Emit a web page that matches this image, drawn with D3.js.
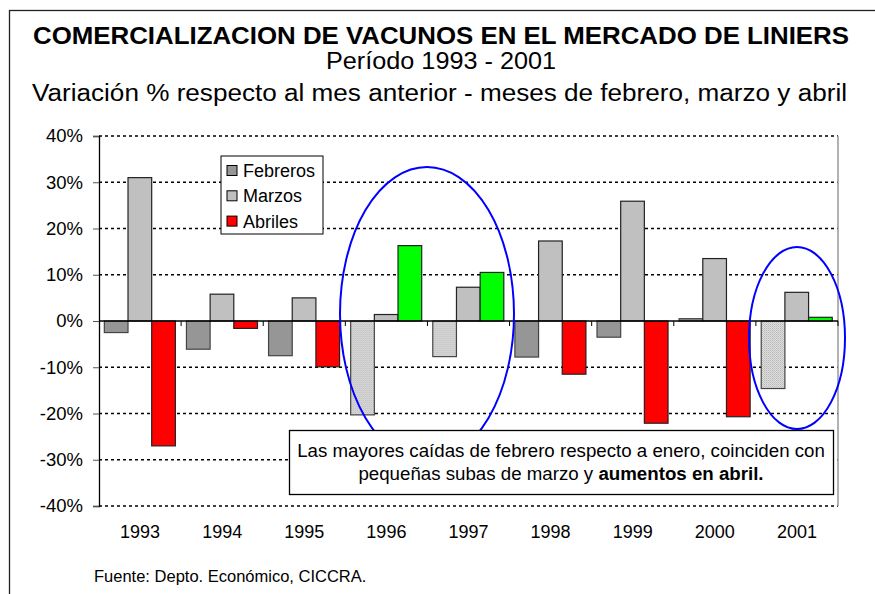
<!DOCTYPE html>
<html>
<head>
<meta charset="utf-8">
<script src="https://cdn.jsdelivr.net/npm/d3@7"></script>
<style>
  body { margin: 0; background: #fff; }
  svg text { font-family: Arial, "Liberation Sans", sans-serif; fill: #000; }
</style>
</head>
<body>
<div id="vis"></div>
<script>
// data (variacion %)
var years = ['1993', '1994', '1995', '1996', '1997', '1998', '1999', '2000', '2001'];
var febreros = [-2.5, -6.1, -7.5, -20.3, -7.7, -7.8, -3.5, 0.5, -14.6];
var marzos = [31.0, 5.8, 5.0, 1.4, 7.3, 17.3, 25.9, 13.5, 6.2];
var abriles = [-27.0, -1.6, -9.9, 16.3, 10.5, -11.5, -22.1, -20.7, 0.8];
// years highlighted in the circles
var destacados = ['1996', '1997', '2001'];
var yTicks = [-40, -30, -20, -10, 0, 10, 20, 30, 40];
var seriesNames = ['Febreros', 'Marzos', 'Abriles'];

var width = 875;
var height = 594;
var margin = { top: 136, left: 99, bottom: 88, right: 37 };
var plotW = width - margin.left - margin.right;
var plotH = height - margin.top - margin.bottom;

var svg = d3.select('#vis').append('svg')
    .attr('width', width)
    .attr('height', height);

var defs = svg.append('defs');
var pat = defs.append('pattern')
    .attr('id', 'puntos')
    .attr('width', 2)
    .attr('height', 2)
    .attr('patternUnits', 'userSpaceOnUse');
pat.append('rect').attr('width', 2).attr('height', 2).attr('fill', '#e2e2e2');
pat.append('rect').attr('width', 1).attr('height', 1).attr('fill', '#b4b4b4');
pat.append('rect').attr('x', 1).attr('y', 1).attr('width', 1).attr('height', 1).attr('fill', '#c4c4c4');

// outer frame
svg.append('rect')
    .attr('x', 9.5)
    .attr('y', 10.5)
    .attr('width', 900)
    .attr('height', 700)
    .attr('fill', 'none')
    .attr('stroke', '#222')
    .attr('stroke-width', 1.3);

// titles
svg.append('text')
    .attr('x', 441).attr('y', 43.5)
    .attr('text-anchor', 'middle')
    .attr('textLength', 816)
    .attr('lengthAdjust', 'spacingAndGlyphs')
    .style('font-size', '23px')
    .style('font-weight', 'bold')
    .text('COMERCIALIZACION DE VACUNOS EN EL MERCADO DE LINIERS');
svg.append('text')
    .attr('x', 441).attr('y', 68.5)
    .attr('text-anchor', 'middle')
    .attr('textLength', 230)
    .attr('lengthAdjust', 'spacingAndGlyphs')
    .style('font-size', '23px')
    .text('Período 1993 - 2001');
svg.append('text')
    .attr('x', 439.5).attr('y', 101)
    .attr('text-anchor', 'middle')
    .attr('textLength', 815)
    .attr('lengthAdjust', 'spacingAndGlyphs')
    .style('font-size', '23px')
    .text('Variación % respecto al mes anterior - meses de febrero, marzo y abril');

var g = svg.append('g')
    .attr('transform', 'translate(' + margin.left + ',' + margin.top + ')');

var x = d3.scaleBand()
    .domain(years)
    .range([0, plotW])
    .padding(0);

var xSub = d3.scaleBand()
    .domain(seriesNames)
    .range([x.bandwidth() * 0.065, x.bandwidth() * 0.93]);

var y = d3.scaleLinear()
    .domain([-40, 40])
    .range([plotH, 0]);

// gridlines
g.selectAll('.grid').data(yTicks.filter(function (d) { return d !== 0; }))
  .enter().append('line')
    .attr('class', 'grid')
    .attr('x1', 0).attr('x2', plotW)
    .attr('y1', function (d) { return y(d); })
    .attr('y2', function (d) { return y(d); })
    .attr('stroke', '#000')
    .attr('stroke-width', 1.6)
    .attr('stroke-dasharray', '3,3');

// right border of plot area
g.append('line')
    .attr('x1', plotW).attr('x2', plotW)
    .attr('y1', 0).attr('y2', plotH)
    .attr('stroke', '#999')
    .attr('stroke-width', 1.5);

// y axis
var yAxis = d3.axisLeft(y)
    .tickValues(yTicks)
    .tickSize(6)
    .tickPadding(10)
    .tickFormat(function (d) { return d + '%'; });
var ya = g.append('g').attr('class', 'y axis').call(yAxis);
ya.select('.domain').attr('stroke', '#000').attr('stroke-width', 1.3);
ya.selectAll('.tick line').attr('stroke', '#555');
ya.selectAll('text').style('font-size', '18.5px').attr('fill', '#000');

// bars
var rows = years.map(function (yr, i) {
  return { year: yr, vals: [febreros[i], marzos[i], abriles[i]] };
});

var grupos = g.selectAll('.grupo').data(rows)
  .enter().append('g')
    .attr('class', 'grupo')
    .attr('transform', function (d) { return 'translate(' + x(d.year) + ',0)'; });

grupos.selectAll('rect')
  .data(function (d) {
    return d.vals.map(function (v, j) { return { year: d.year, serie: seriesNames[j], value: v }; });
  })
  .enter().append('rect')
    .attr('x', function (d) { return xSub(d.serie); })
    .attr('width', xSub.bandwidth())
    .attr('y', function (d) { return y(Math.max(0, d.value)); })
    .attr('height', function (d) { return Math.abs(y(d.value) - y(0)); })
    .attr('fill', function (d) {
      var dest = destacados.indexOf(d.year) >= 0;
      if (d.serie === 'Febreros') return dest ? 'url(#puntos)' : '#969696';
      if (d.serie === 'Marzos') return '#c0c0c0';
      return dest ? '#00ff00' : '#ff0000';
    })
    .attr('stroke', function (d) { return d.serie === 'Febreros' ? '#444' : '#222'; })
    .attr('stroke-width', 1.2);

// zero line with category ticks
g.append('line')
    .attr('x1', 0).attr('x2', plotW)
    .attr('y1', y(0)).attr('y2', y(0))
    .attr('stroke', '#000')
    .attr('stroke-width', 1.5);
g.selectAll('.xtick').data(years.slice(1).concat(['fin']))
  .enter().append('line')
    .attr('class', 'xtick')
    .attr('x1', function (d, i) { return x.step() * (i + 1); })
    .attr('x2', function (d, i) { return x.step() * (i + 1); })
    .attr('y1', y(0)).attr('y2', y(0) + 5)
    .attr('stroke', '#000');

// x labels
g.selectAll('.xlabel').data(years)
  .enter().append('text')
    .attr('class', 'xlabel')
    .attr('x', function (d) { return x(d) + x.bandwidth() / 2; })
    .attr('y', plotH + 32)
    .attr('text-anchor', 'middle')
    .style('font-size', '18px')
    .text(function (d) { return d; });

// legend
var legend = svg.append('g').attr('transform', 'translate(221,156)');
legend.append('rect')
    .attr('width', 102).attr('height', 78)
    .attr('fill', '#fff')
    .attr('stroke', '#000')
    .attr('stroke-width', 1);
var legColors = ['#969696', '#c0c0c0', '#ff0000'];
seriesNames.forEach(function (s, i) {
  legend.append('rect')
    .attr('x', 6).attr('y', 9.5 + i * 25.3)
    .attr('width', 10).attr('height', 10)
    .attr('fill', legColors[i])
    .attr('stroke', '#000');
  legend.append('text')
    .attr('x', 22).attr('y', 21 + i * 25.3)
    .style('font-size', '18px')
    .text(s);
});

// circles highlighting years
svg.append('ellipse')
    .attr('cx', 427).attr('cy', 314).attr('rx', 87).attr('ry', 147)
    .attr('fill', 'none').attr('stroke', '#0000ff').attr('stroke-width', 2);
svg.append('ellipse')
    .attr('cx', 797).attr('cy', 338).attr('rx', 48).attr('ry', 91)
    .attr('fill', 'none').attr('stroke', '#0000ff').attr('stroke-width', 2);

// note box
var nota = svg.append('g');
nota.append('rect')
    .attr('x', 289.5).attr('y', 430.5)
    .attr('width', 544).attr('height', 64)
    .attr('fill', '#fff')
    .attr('stroke', '#000')
    .attr('stroke-width', 1.3);
nota.append('text')
    .attr('x', 561).attr('y', 457)
    .attr('text-anchor', 'middle')
    .style('font-size', '18.7px')
    .text('Las mayores caídas de febrero respecto a enero, coinciden con');
var t2 = nota.append('text')
    .attr('x', 561).attr('y', 480)
    .attr('text-anchor', 'middle')
    .style('font-size', '18.7px');
t2.append('tspan').text('pequeñas subas de marzo y ');
t2.append('tspan').style('font-weight', 'bold').text('aumentos en abril.');

// source
svg.append('text')
    .attr('x', 94).attr('y', 582)
    .style('font-size', '16.5px')
    .text('Fuente: Depto. Económico, CICCRA.');
</script>
</body>
</html>
